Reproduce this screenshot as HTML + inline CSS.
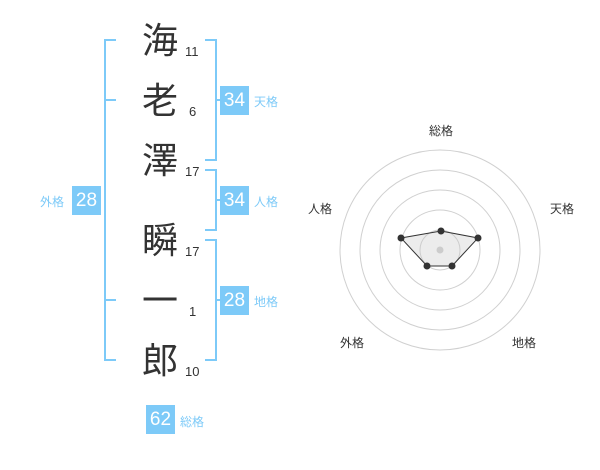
<!DOCTYPE html><html><head><meta charset="utf-8"><style>
body{margin:0;width:600px;height:470px;background:#fff;position:relative;font-family:"Liberation Sans","Noto Sans CJK JP",sans-serif;overflow:hidden}
.k{position:absolute;left:138px;width:44px;text-align:center;font-size:36px;line-height:40px;color:#333}
.n{position:absolute;font-size:13px;color:#333;line-height:16px}
.b{position:absolute;width:29px;height:29px;background:#7dcaf8;color:#fff;font-size:19px;line-height:29px;text-align:center}
.l{position:absolute;font-size:12px;color:#7dcaf8;line-height:16px}
</style></head><body>
<svg width="600" height="470" style="position:absolute;left:0;top:0">
<g stroke="#7dcaf8" stroke-width="2" fill="none">
<path d="M116 40H105V360H116M105 100H116M105 300H116"/>
<path d="M205 40H216V160H205M216 100H227"/>
<path d="M205 170H216V230H205M216 200H227"/>
<path d="M205 240H216V360H205M216 300H227"/>
</g>
<g fill="none" stroke="#d0d0d0" stroke-width="1">
<circle cx="440" cy="250" r="100"/><circle cx="440" cy="250" r="80"/><circle cx="440" cy="250" r="60"/><circle cx="440" cy="250" r="40"/><circle cx="440" cy="250" r="20"/>
</g>
<polygon points="441,231 478,238 452,266 427,266 401,238" fill="rgba(200,200,200,0.35)" stroke="#333" stroke-width="1"/>
<circle cx="440" cy="250" r="3.5" fill="#ccc"/>
<g fill="#333"><circle cx="441" cy="231" r="3.5"/><circle cx="478" cy="238" r="3.5"/><circle cx="452" cy="266" r="3.5"/><circle cx="427" cy="266" r="3.5"/><circle cx="401" cy="238" r="3.5"/></g>
<g font-size="12" fill="#333" text-anchor="middle" font-family="Liberation Sans,Noto Sans CJK JP,sans-serif">
<text x="441" y="135">総格</text><text x="562" y="213">天格</text><text x="320" y="213">人格</text><text x="352" y="347">外格</text><text x="524" y="347">地格</text>
</g>
</svg>
<div class="k" style="top:21px">海</div><div class="n" style="left:185px;top:44px">11</div>
<div class="k" style="top:81px">老</div><div class="n" style="left:189px;top:104px">6</div>
<div class="k" style="top:141px">澤</div><div class="n" style="left:185px;top:164px">17</div>
<div class="k" style="top:221px">瞬</div><div class="n" style="left:185px;top:244px">17</div>
<div class="k" style="top:281px">一</div><div class="n" style="left:189px;top:304px">1</div>
<div class="k" style="top:341px">郎</div><div class="n" style="left:185px;top:364px">10</div>
<div class="b" style="left:220px;top:86px">34</div><div class="l" style="left:254px;top:94px">天格</div>
<div class="b" style="left:220px;top:186px">34</div><div class="l" style="left:254px;top:194px">人格</div>
<div class="b" style="left:220px;top:286px">28</div><div class="l" style="left:254px;top:294px">地格</div>
<div class="b" style="left:72px;top:186px">28</div><div class="l" style="left:40px;top:194px">外格</div>
<div class="b" style="left:146px;top:405px">62</div><div class="l" style="left:180px;top:414px">総格</div>
</body></html>
